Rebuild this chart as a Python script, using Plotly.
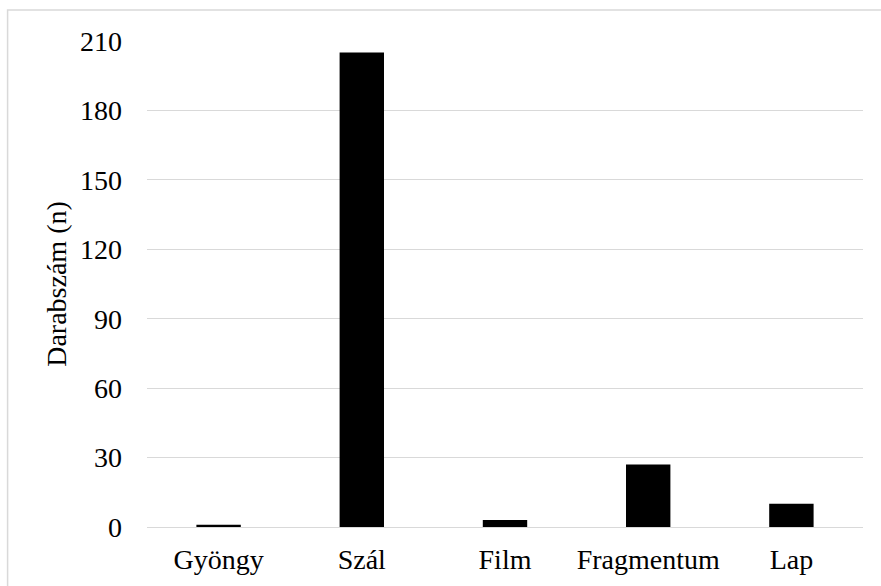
import plotly.graph_objects as go

categories = ["Gyöngy", "Szál", "Film", "Fragmentum", "Lap"]
counts = [1, 205, 3, 27, 10]
y_ticks = [0, 30, 60, 90, 120, 150, 180, 210]

W, H = 881, 586
L, R, T, B = 146.5, 18, 41, 59
pw, ph = W - L - R, H - T - B
FONT = "Times New Roman, Liberation Serif, serif"
FS = 28

fig = go.Figure(go.Bar(x=categories, y=counts, marker=dict(color="black", line=dict(width=0))))

preload = ["Liberation Serif", "Times New Roman", "serif"]
anns = [dict(xref="paper", yref="paper", x=0.5, y=0.5, text="Darabszám 0123456789", showarrow=False,
             opacity=0, font=dict(family=f, size=FS, color="white")) for f in preload]

fig.update_layout(
    width=W, height=H,
    margin=dict(l=L, r=R, t=T, b=B, pad=0, autoexpand=False),
    paper_bgcolor="white", plot_bgcolor="white",
    font=dict(family=FONT, size=FS, color="black"),
    bargap=0.69,
    showlegend=False,
    annotations=anns,
    xaxis=dict(showgrid=False, showline=False, ticks="", zeroline=False, automargin=False,
               ticklabelstandoff=13,
               tickfont=dict(family=FONT, size=FS, color="black")),
    yaxis=dict(range=[0, 210], tickvals=y_ticks, showgrid=True, gridcolor="#d9d9d9", gridwidth=1,
               zeroline=True, zerolinecolor="#d9d9d9", zerolinewidth=1, showline=False, ticks="",
               ticklabelstandoff=24, automargin=False,
               tickfont=dict(family=FONT, size=FS, color="black"),
               title=dict(text="Darabszám (n)", standoff=5, font=dict(family=FONT, size=FS, color="black"))),
    shapes=[dict(type="rect", xref="paper", yref="paper",
                 x0=(7 - L) / pw, x1=(W + 5 - L) / pw,
                 y0=-(H + 5 - (T + ph)) / ph, y1=1 + (T - 10) / ph,
                 line=dict(color="#d9d9d9", width=1.5), fillcolor="rgba(0,0,0,0)", layer="below")],
)

fig.write_html("out.html", config={"displayModeBar": False},
               post_script="document.body.style.margin='0';")
